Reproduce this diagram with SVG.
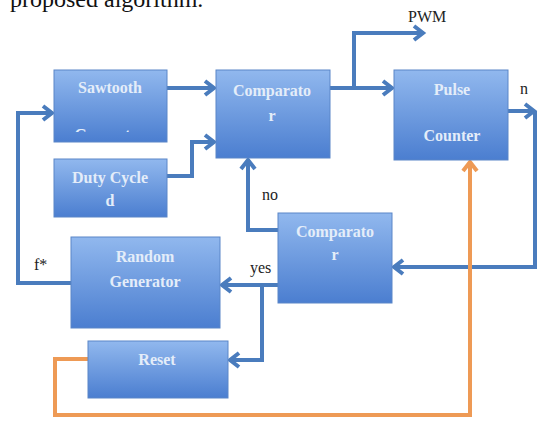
<svg xmlns="http://www.w3.org/2000/svg" width="538" height="421" viewBox="0 0 538 421">
<style>
.box{fill:url(#g);stroke:#5a86c8;stroke-width:1}
.bt{font-family:"Liberation Serif",serif;font-weight:bold;font-size:16px;fill:#e4edf9;text-anchor:middle}
.lb{font-family:"Liberation Serif",serif;font-size:16px;fill:#222}
.ln{fill:none;stroke:#4a7cbd;stroke-width:4;stroke-linejoin:miter}
.or{fill:none;stroke:#ee9a55;stroke-width:4}
</style>
<defs>
<linearGradient id="g" x1="0" y1="0" x2="0" y2="1">
<stop offset="0" stop-color="#91b8ee"/>
<stop offset="1" stop-color="#4b7ed0"/>
</linearGradient>
<marker id="a" markerUnits="userSpaceOnUse" markerWidth="16" markerHeight="16" refX="12" refY="8" orient="auto" overflow="visible">
<path d="M3,1 L12,8 L3,15" fill="none" stroke="#4a7cbd" stroke-width="4"/>
</marker>
<marker id="ao" markerUnits="userSpaceOnUse" markerWidth="16" markerHeight="16" refX="12" refY="8" orient="auto" overflow="visible">
<path d="M3,1 L12,8 L3,15" fill="none" stroke="#ee9a55" stroke-width="4"/>
</marker>
<clipPath id="cl"><rect x="54" y="127" width="113" height="5"/></clipPath>
</defs>
<rect width="538" height="421" fill="#fff"/>
<text x="10" y="7" font-family="Liberation Serif,serif" font-size="24" fill="#111">proposed algorithm.</text>

<g id="connectors">
<path class="ln" d="M167,88 H214" marker-end="url(#a)"/>
<path class="ln" d="M167,176 H192 V142 H214" marker-end="url(#a)"/>
<path class="ln" d="M330,88 H392" marker-end="url(#a)"/>
<path class="ln" d="M354,88 V33 H423" marker-end="url(#a)"/>
<path class="ln" d="M508,111 H534" marker-end="url(#a)"/>
<path class="ln" d="M535,111 V267 H394" marker-end="url(#a)"/>
<path class="ln" d="M278,230 H248 V160" marker-end="url(#a)"/>
<path class="ln" d="M278,285 H222" marker-end="url(#a)"/>
<path class="ln" d="M262,285 V360 H230" marker-end="url(#a)"/>
<path class="ln" d="M71,283 H18 V113 H52" marker-end="url(#a)"/>
<path class="or" d="M88,359 H55 V415 H470 V162" marker-end="url(#ao)"/>
<text class="lb" x="408" y="22">PWM</text>
<text class="lb" x="520" y="94">n</text>
<text class="lb" x="262" y="200">no</text>
<text class="lb" x="250" y="273">yes</text>
<text class="lb" x="34" y="270">f*</text>
</g>

<g id="sawtooth">
<rect class="box" x="54" y="70" width="113" height="72"/>
<text class="bt" x="110" y="93">Sawtooth</text>
<text class="bt" x="110" y="140" clip-path="url(#cl)">Generator</text>
</g>
<g id="duty">
<rect class="box" x="54" y="159" width="113" height="58"/>
<text class="bt" x="110" y="183">Duty Cycle</text>
<text class="bt" x="110" y="206">d</text>
</g>
<g id="comparator1">
<rect class="box" x="216" y="70" width="114" height="88"/>
<text class="bt" x="272" y="96">Comparato</text>
<text class="bt" x="272" y="121">r</text>
</g>
<g id="pulse">
<rect class="box" x="394" y="70" width="114" height="90"/>
<text class="bt" x="452" y="95">Pulse</text>
<text class="bt" x="452" y="141">Counter</text>
</g>
<g id="comparator2">
<rect class="box" x="278" y="213" width="114" height="90"/>
<text class="bt" x="335" y="237">Comparato</text>
<text class="bt" x="335" y="260">r</text>
</g>
<g id="random">
<rect class="box" x="71" y="237" width="149" height="91"/>
<text class="bt" x="145" y="262">Random</text>
<text class="bt" x="145" y="287">Generator</text>
</g>
<g id="reset">
<rect class="box" x="88" y="341" width="140" height="57"/>
<text class="bt" x="157" y="365">Reset</text>
</g>
</svg>
